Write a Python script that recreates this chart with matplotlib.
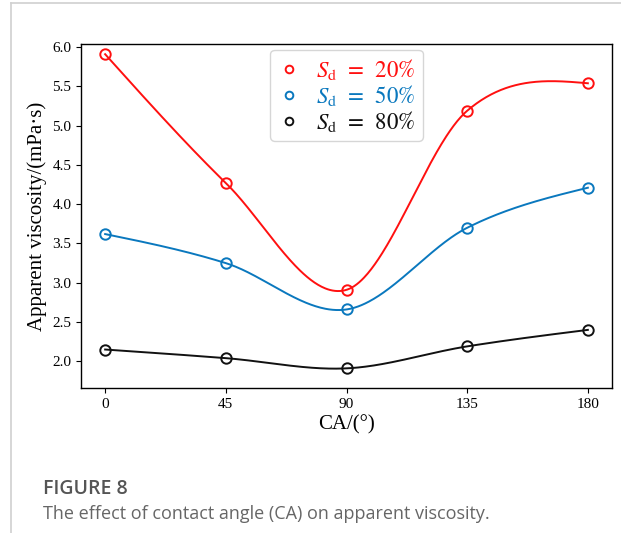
import numpy as np
import matplotlib
matplotlib.use("Agg")
import matplotlib.pyplot as plt
from matplotlib.lines import Line2D

ca = [0, 45, 90, 135, 180]
sd20 = [5.91, 4.27, 2.91, 5.19, 5.54]
sd50 = [3.62, 3.25, 2.66, 3.70, 4.21]
sd80 = [2.15, 2.04, 1.91, 2.19, 2.40]
labels = [r'$S_{\mathrm{d}}$  =  20%', r'$S_{\mathrm{d}}$  =  50%', r'$S_{\mathrm{d}}$  =  80%']
colors = ['#ff1010', '#0a78be', '#111111']
xticks = [0, 45, 90, 135, 180]
yticks = [2.0, 2.5, 3.0, 3.5, 4.0, 4.5, 5.0, 5.5, 6.0]


def hermite_smooth(x, y, xs):
    """Cubic Hermite curve with central-difference (Catmull-Rom) tangents,
    free (zero-curvature) end conditions."""
    x = np.asarray(x, float); y = np.asarray(y, float)
    n = len(x)
    sec = np.diff(y) / np.diff(x)
    d = np.zeros(n)
    d[1:-1] = (y[2:] - y[:-2]) / (x[2:] - x[:-2])
    d[0] = (3 * sec[0] - d[1]) / 2
    d[-1] = (3 * sec[-1] - d[-2]) / 2
    idx = np.clip(np.searchsorted(x, xs, side='right') - 1, 0, n - 2)
    h = x[idx + 1] - x[idx]
    s = (xs - x[idx]) / h
    h00 = 2 * s**3 - 3 * s**2 + 1
    h10 = s**3 - 2 * s**2 + s
    h01 = -2 * s**3 + 3 * s**2
    h11 = s**3 - s**2
    return h00 * y[idx] + h10 * h * d[idx] + h01 * y[idx + 1] + h11 * h * d[idx + 1]


plt.rcParams['mathtext.fontset'] = 'stix'
fig = plt.figure(figsize=(6.21, 5.33), dpi=100)
ax = fig.add_axes([81 / 621, 1 - 388 / 533, (612 - 81) / 621, (388 - 44) / 533])

xs = np.linspace(0, 180, 400)
handles = []
for ys, lab, col in zip([sd20, sd50, sd80], labels, colors):
    ax.plot(xs, hermite_smooth(ca, ys, xs), color=col, lw=1.4)
    ax.plot(ca, ys, 'o', mfc='none', mec=col, mew=1.4, ms=7.5)
    handles.append(Line2D([], [], ls='none', marker='o', mfc='none', mec=col, mew=1.4, ms=5.5))

ax.set_xlim(-9, 189)
ax.set_ylim(1.66, 6.04)
ax.set_xticks(xticks)
ax.set_yticks(yticks)
ax.set_xticklabels([str(v) for v in xticks], family='Liberation Serif', fontsize=11)
ax.set_yticklabels([f'{v:.1f}' for v in yticks], family='Liberation Serif', fontsize=11)
ax.set_xlabel('CA/(°)', family='Liberation Serif', fontsize=15, labelpad=3)
ax.set_ylabel('Apparent viscosity/(mPa·s)', family='Liberation Serif', fontsize=15, labelpad=4)
for s in ax.spines.values():
    s.set_linewidth(1.0)

leg = ax.legend(handles, labels, loc='upper center', fontsize=16.5, frameon=True,
                borderaxespad=0.25, handlelength=1.0, handletextpad=0.7,
                labelspacing=0.05, borderpad=0.3)
for t, col in zip(leg.get_texts(), colors):
    t.set_color(col)
    t.set_family('STIXGeneral')

fig.text(43 / 621, 1 - 489 / 533, 'FIGURE 8', family='Open Sans', fontweight='semibold',
         fontsize=14, color='#555555', va='center', ha='left')
fig.text(43 / 621, 1 - 514 / 533, 'The effect of contact angle (CA) on apparent viscosity.',
         family='Open Sans', fontsize=13, color='#666666', va='center', ha='left')

fig.add_artist(Line2D([11 / 621, 11 / 621], [0, 1 - 3 / 533], transform=fig.transFigure,
                      color='#d0d0d0', lw=1.2))
fig.add_artist(Line2D([11 / 621, 1], [1 - 3 / 533, 1 - 3 / 533], transform=fig.transFigure,
                      color='#d0d0d0', lw=1.2))

fig.savefig('out.png', dpi=100)
